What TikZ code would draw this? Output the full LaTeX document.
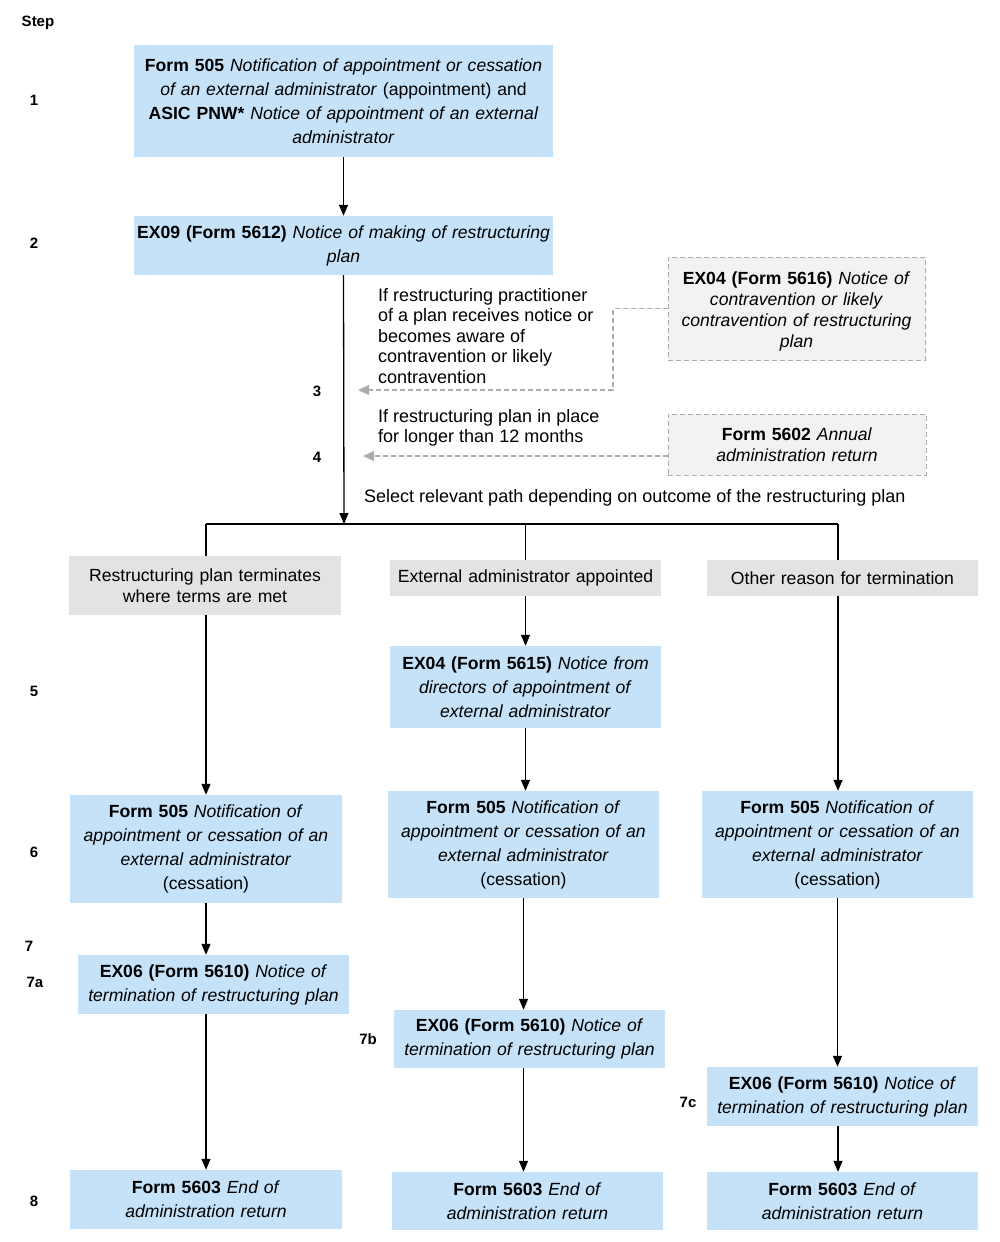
\documentclass[tikz,border=0pt]{standalone}
\usepackage{fontspec}
\setmainfont{Liberation Sans}
\usetikzlibrary{arrows.meta}
\definecolor{formblue}{RGB}{198,226,248}
\definecolor{outcomegrey}{RGB}{227,227,227}
\definecolor{notefill}{RGB}{242,242,242}
\definecolor{notegrey}{RGB}{172,172,172}

\begin{document}
\begin{tikzpicture}[x=1pt, y=-1pt,
    form/.style={fill=formblue, inner sep=0pt, align=center, text width=271pt, font=\fontsize{17.6}{24}\selectfont},
    outcome/.style={fill=outcomegrey, inner sep=0pt, align=center, text width=271pt, font=\fontsize{17.6}{20.5}\selectfont},
    notebox/.style={fill=notefill, draw=notegrey, dash pattern=on 5pt off 3pt, line width=1pt, inner sep=0pt, align=center, text width=257pt, font=\fontsize{17.6}{21}\selectfont},
    steplabel/.style={font=\fontsize{15}{18}\selectfont\bfseries, inner sep=0pt},
    sidetext/.style={font=\fontsize{18}{20.5}\selectfont, align=left, inner sep=0pt, anchor=west},
    flow/.style={-{Triangle[length=11pt, width=9pt]}, line width=1.3pt},
    noteflow/.style={-{Triangle[length=11pt, width=10pt]}, draw=notegrey, line width=1.2pt, dash pattern=on 5pt off 3pt},
]
    \useasboundingbox (0, 0) rectangle (1000, 1242);

    \node[steplabel] (step) at (38, 23) {Step};
    \node[steplabel] (s1) at (34, 100) {1};
    \node[steplabel] (s2) at (34, 243) {2};
    \node[steplabel] (s3) at (317, 391) {3};
    \node[steplabel] (s4) at (317, 457) {4};
    \node[steplabel] (s5) at (34, 691) {5};
    \node[steplabel] (s6) at (34, 852) {6};
    \node[steplabel] (s7) at (29, 946) {7};
    \node[steplabel] (s7a) at (35, 982) {7a};
    \node[steplabel] (s7b) at (368, 1039) {7b};
    \node[steplabel] (s7c) at (688, 1102) {7c};
    \node[steplabel] (s8) at (34, 1201) {8};

    \node[form, text width=419pt, minimum height=112pt] (appoint) at (343.5, 101) {\textbf{Form 505} \textit{Notification of appointment or cessation}\\ \textit{of an external administrator} (appointment) and\\ \textbf{ASIC PNW*} \textit{Notice of appointment of an external}\\ \textit{administrator}};
    \node[form, text width=419pt, minimum height=59pt] (making) at (343.5, 245.5) {\textbf{EX09 (Form 5612)} \textit{Notice of making of restructuring}\\ \textit{plan}};

    \node[notebox, minimum height=103pt] (contra) at (796.5, 308.5) {\rule{0pt}{19pt}\textbf{EX04 (Form 5616)} \textit{Notice of}\\ \textit{contravention or likely}\\ \textit{contravention of restructuring}\\ \textit{plan}};
    \node[notebox, text width=258pt, minimum height=61pt] (annual) at (797, 444.5) {\textbf{Form 5602} \textit{Annual}\\ \textit{administration return}};

    \node[sidetext] (ifcontra) at (378, 336) {If restructuring practitioner\\ of a plan receives notice or\\ becomes aware of\\ contravention or likely\\ contravention};
    \node[sidetext] (iflonger) at (378, 428) {If restructuring plan in place\\ for longer than 12 months};
    \node[sidetext] (select) at (364, 498) {Select relevant path depending on outcome of the restructuring plan};

    \coordinate (split) at (344, 524);
    \coordinate (barleft) at (206, 524);
    \coordinate (barright) at (838, 524);
    \coordinate (bend3) at (613, 390);
    \coordinate (tip3) at (358, 390);
    \coordinate (tip4) at (363, 456);

    \node[outcome, text width=272pt, minimum height=59pt] (termmet) at (205, 585.5) {Restructuring plan terminates\\ where terms are met};
    \node[outcome, minimum height=36pt] (extadmin) at (525.5, 578) {External administrator appointed};
    \node[outcome, minimum height=36pt] (otherreason) at (842.5, 578) {Other reason for termination};

    \node[form, minimum height=82pt] (directors) at (525.5, 687) {\textbf{EX04 (Form 5615)} \textit{Notice from}\\ \textit{directors of appointment of}\\ \textit{external administrator}};

    \node[form, text width=272pt, minimum height=108pt] (cessA) at (206, 849) {\textbf{Form 505} \textit{Notification of}\\ \textit{appointment or cessation of an}\\ \textit{external administrator}\\ (cessation)};
    \node[form, minimum height=107pt] (cessB) at (523.5, 844.5) {\textbf{Form 505} \textit{Notification of}\\ \textit{appointment or cessation of an}\\ \textit{external administrator}\\ (cessation)};
    \node[form, minimum height=107pt] (cessC) at (837.5, 844.5) {\textbf{Form 505} \textit{Notification of}\\ \textit{appointment or cessation of an}\\ \textit{external administrator}\\ (cessation)};

    \node[form, minimum height=59pt] (termA) at (213.5, 984.5) {\textbf{EX06 (Form 5610)} \textit{Notice of}\\ \textit{termination of restructuring plan}};
    \node[form, minimum height=58pt] (termB) at (529.5, 1039) {\textbf{EX06 (Form 5610)} \textit{Notice of}\\ \textit{termination of restructuring plan}};
    \node[form, minimum height=59pt] (termC) at (842.5, 1096.5) {\textbf{EX06 (Form 5610)} \textit{Notice of}\\ \textit{termination of restructuring plan}};

    \node[form, text width=272pt, minimum height=59pt] (endA) at (206, 1199.5) {\textbf{Form 5603} \textit{End of}\\ \textit{administration return}};
    \node[form, minimum height=58pt] (endB) at (527.5, 1201) {\textbf{Form 5603} \textit{End of}\\ \textit{administration return}};
    \node[form, minimum height=58pt] (endC) at (842.5, 1201) {\textbf{Form 5603} \textit{End of}\\ \textit{administration return}};

    \draw[flow] (appoint) -- (making);
    \draw[flow] (making.south) -- (split);
    \draw[line width=1.3pt] (barleft) -- (barright);
    \draw[line width=1.3pt] (barleft) -- (barleft |- termmet.north);
    \draw[line width=1.3pt] (extadmin.north |- barleft) -- (extadmin.north);
    \draw[line width=1.3pt] (barright) -- (barright |- otherreason.north);

    \draw[noteflow] (contra.west) -| (bend3) -- (tip3);
    \draw[noteflow] (annual.west |- tip4) -- (tip4);

    \draw[flow] (extadmin) -- (directors);
    \draw[flow] (termmet.south -| barleft) -- (barleft |- cessA.north);
    \draw[flow] (directors) -- (directors |- cessB.north);
    \draw[flow] (otherreason.south -| barright) -- (barright |- cessC.north);

    \draw[flow] (cessA.south -| endA) -- (endA |- termA.north);
    \draw[flow] (cessB) -- (cessB |- termB.north);
    \draw[flow] (cessC) -- (cessC |- termC.north);

    \draw[flow] (termA.south -| endA) -- (endA);
    \draw[flow] (termB.south -| cessB) -- (cessB |- endB.north);
    \draw[flow] (termC.south -| barright) -- (barright |- endC.north);
\end{tikzpicture}
\end{document}
